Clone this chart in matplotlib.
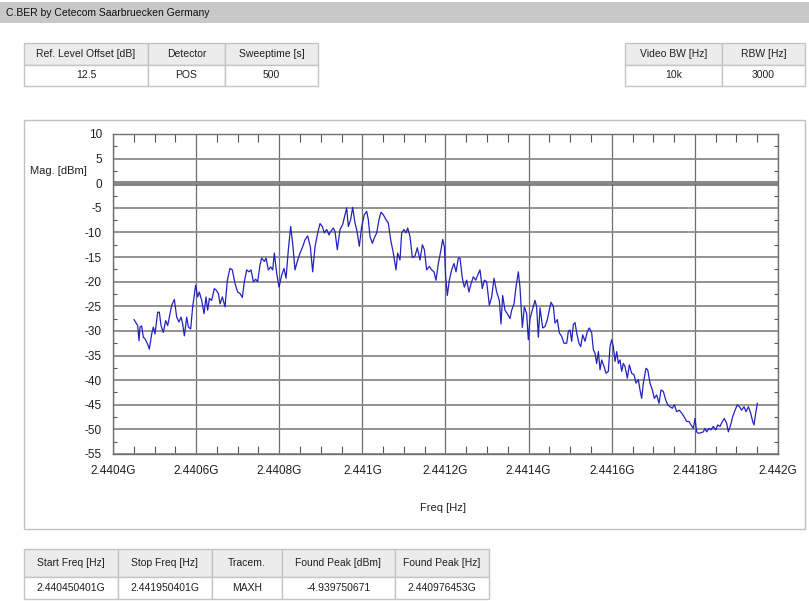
import matplotlib
matplotlib.use('Agg')
import matplotlib.pyplot as plt
from matplotlib.patches import Rectangle
from matplotlib.ticker import MultipleLocator

# --- Data ---

FREQ_MHZ = [
    2440.4504, 2440.4594, 2440.4626, 2440.4650, 2440.4690, 2440.4730, 2440.4770, 2440.4834,
    2440.4875, 2440.4931, 2440.4971, 2440.5011, 2440.5075, 2440.5115, 2440.5155, 2440.5211,
    2440.5267, 2440.5316, 2440.5372, 2440.5412, 2440.5476, 2440.5532, 2440.5588, 2440.5636,
    2440.5677, 2440.5717, 2440.5773, 2440.5813, 2440.5869, 2440.5917, 2440.5989, 2440.6037,
    2440.6077, 2440.6134, 2440.6190, 2440.6238, 2440.6278, 2440.6318, 2440.6374, 2440.6438,
    2440.6479, 2440.6535, 2440.6575, 2440.6631, 2440.6695, 2440.6751, 2440.6815, 2440.6871,
    2440.6936, 2440.7000, 2440.7056, 2440.7112, 2440.7160, 2440.7216, 2440.7272, 2440.7321,
    2440.7377, 2440.7433, 2440.7481, 2440.7537, 2440.7577, 2440.7641, 2440.7682, 2440.7738,
    2440.7794, 2440.7842, 2440.7882, 2440.7938, 2440.7994, 2440.8058, 2440.8115, 2440.8163,
    2440.8219, 2440.8275, 2440.8323, 2440.8379, 2440.8443, 2440.8500, 2440.8564, 2440.8620,
    2440.8684, 2440.8748, 2440.8804, 2440.8860, 2440.8925, 2440.8981, 2440.9037, 2440.9085,
    2440.9141, 2440.9197,
    2440.9221, 2440.9301, 2440.9341, 2440.9397, 2440.9462, 2440.9526, 2440.9582, 2440.9622,
    2440.9662, 2440.9718, 2440.9766, 2440.9823, 2440.9863, 2440.9927, 2440.9983, 2441.0047,
    2441.0103, 2441.0143, 2441.0183, 2441.0240, 2441.0288, 2441.0344, 2441.0400, 2441.0448,
    2441.0504, 2441.0568, 2441.0625, 2441.0681, 2441.0745, 2441.0809, 2441.0849, 2441.0905,
    2441.0945, 2441.1001, 2441.1050, 2441.1090, 2441.1146, 2441.1202, 2441.1266, 2441.1322,
    2441.1386, 2441.1443, 2441.1491, 2441.1547, 2441.1611, 2441.1667, 2441.1723, 2441.1771,
    2441.1828, 2441.1892, 2441.1932, 2441.1972, 2441.2004, 2441.2044, 2441.2092, 2441.2148,
    2441.2204, 2441.2253, 2441.2309, 2441.2349, 2441.2405, 2441.2453, 2441.2509, 2441.2565,
    2441.2614, 2441.2670, 2441.2726, 2441.2774, 2441.2830, 2441.2886, 2441.2934, 2441.2990,
    2441.3055, 2441.3111, 2441.3167, 2441.3231, 2441.3295, 2441.3335, 2441.3375, 2441.3432,
    2441.3488, 2441.3552, 2441.3592, 2441.3648, 2441.3696, 2441.3752, 2441.3792, 2441.3849,
    2441.3897, 2441.3953, 2441.3993, 2441.4033, 2441.4089, 2441.4153, 2441.4193, 2441.4234,
    2441.4274, 2441.4338, 2441.4394, 2441.4450, 2441.4499, 2441.4539, 2441.4595, 2441.4635,
    2441.4691, 2441.4739, 2441.4795, 2441.4851, 2441.4916, 2441.4956, 2441.4996, 2441.5036,
    2441.5076, 2441.5116, 2441.5156, 2441.5212, 2441.5252, 2441.5301, 2441.5357, 2441.5413,
    2441.5461, 2441.5517, 2441.5557, 2441.5597, 2441.5637, 2441.5678, 2441.5718, 2441.5758,
    2441.5814, 2441.5862, 2441.5918, 2441.5958, 2441.5998, 2441.6038, 2441.6079, 2441.6119,
    2441.6159, 2441.6199, 2441.6239, 2441.6279, 2441.6319, 2441.6375, 2441.6423, 2441.6480,
    2441.6536, 2441.6584, 2441.6640, 2441.6680, 2441.6720, 2441.6760, 2441.6824, 2441.6865,
    2441.6921, 2441.6977, 2441.7025, 2441.7081, 2441.7137, 2441.7185, 2441.7241, 2441.7298,
    2441.7346, 2441.7402, 2441.7458, 2441.7506, 2441.7562, 2441.7626, 2441.7683, 2441.7739,
    2441.7803, 2441.7859, 2441.7907, 2441.7963, 2441.8003, 2441.8043, 2441.8084, 2441.8140,
    2441.8204, 2441.8244, 2441.8284, 2441.8340, 2441.8388, 2441.8444, 2441.8501, 2441.8549,
    2441.8605, 2441.8661, 2441.8709, 2441.8765, 2441.8805, 2441.8861, 2441.8910, 2441.8966,
    2441.9022, 2441.9070, 2441.9126, 2441.9182, 2441.9230, 2441.9287, 2441.9343, 2441.9391,
    2441.9423, 2441.9463, 2441.9504,
]

MAG_DBM = [
    -27.7, -28.9, -32.0, -29.2, -29.0, -31.3, -31.6, -32.7,
    -33.7, -30.6, -29.2, -30.6, -26.2, -26.2, -28.9, -30.3,
    -27.9, -28.9, -26.5, -24.8, -23.6, -27.2, -28.2, -27.2,
    -28.6, -31.0, -27.2, -29.2, -29.6, -25.1, -20.7, -23.1,
    -22.1, -23.8, -26.5, -23.1, -25.8, -23.4, -23.8, -21.4,
    -21.7, -22.4, -24.5, -23.1, -25.1, -19.7, -17.3, -17.6,
    -20.4, -22.1, -22.4, -23.2, -20.0, -17.6, -18.0, -17.6,
    -20.0, -19.5, -20.0, -16.6, -15.2, -15.9, -15.2, -17.6,
    -17.0, -17.6, -14.2, -18.3, -21.1, -18.7, -17.3, -19.3,
    -13.5, -8.8, -12.2, -17.6, -15.6, -14.2, -12.9, -11.5,
    -10.7, -12.9, -18.0, -12.9, -10.1, -8.2, -8.8, -10.1,
    -9.4, -10.5,
    -10.0, -9.1, -9.8, -13.5, -9.4, -8.4, -6.4, -5.0,
    -8.8, -7.4, -4.9, -8.1, -9.4, -12.8, -8.8, -6.4,
    -5.7, -7.4, -10.8, -12.2, -11.1, -10.1, -7.4, -5.9,
    -6.4, -7.4, -8.1, -11.5, -14.2, -17.6, -14.2, -15.6,
    -10.1, -9.4, -10.1, -9.1, -10.8, -15.1, -14.8, -13.1,
    -15.6, -12.5, -13.5, -17.6, -16.9, -17.6, -18.0, -19.7,
    -16.3, -13.5, -11.4, -12.9, -19.0, -22.8, -19.7, -17.6,
    -16.3, -18.0, -15.2, -15.2, -19.3, -21.1, -19.7, -22.1,
    -20.4, -19.0, -19.7, -18.7, -17.6, -21.4, -19.7, -20.0,
    -24.8, -23.1, -19.3, -22.1, -23.8, -28.6, -22.8, -25.8,
    -26.5, -27.5, -25.8, -24.5, -21.1, -18.0, -21.1, -29.3,
    -25.1, -26.5, -31.8, -27.5, -25.8, -23.8, -25.1, -31.3,
    -25.3, -29.4, -29.1, -27.7, -25.7, -24.2, -25.0, -28.4,
    -27.7, -30.4, -31.1, -32.5, -32.5, -30.1, -29.8, -32.1,
    -28.7, -28.3, -30.4, -32.5, -33.2, -30.8, -32.1, -30.1,
    -29.4, -30.4, -33.8, -34.5, -36.6, -34.2, -37.9, -35.9,
    -37.2, -38.6, -38.2, -33.2, -31.8, -33.2, -36.2, -34.2,
    -36.6, -35.9, -38.2, -36.6, -37.2, -39.6, -36.9, -38.6,
    -38.9, -40.6, -39.9, -42.0, -43.7, -40.6, -37.6, -37.9,
    -40.6, -42.0, -43.7, -43.0, -44.7, -42.0, -42.3, -44.0,
    -45.0, -45.4, -45.7, -45.0, -46.4, -46.1, -46.7, -47.4,
    -48.4, -48.4, -49.1, -49.8, -47.8, -50.5, -50.8, -50.7,
    -50.5, -49.8, -50.5, -49.8, -50.1, -49.4, -50.1, -49.1,
    -49.4, -48.4, -47.8, -48.8, -50.5, -49.1, -47.4, -46.1,
    -45.0, -45.4, -46.1, -45.4, -46.4, -45.4, -46.7, -48.4,
    -49.1, -46.7, -44.7,
]

X_TICKS = [2440.4, 2440.6, 2440.8, 2441.0, 2441.2, 2441.4, 2441.6, 2441.8, 2442.0]
X_LABELS = ['2.4404G', '2.4406G', '2.4408G', '2.441G', '2.4412G',
            '2.4414G', '2.4416G', '2.4418G', '2.442G']
Y_TICKS = list(range(10, -60, -5))
Y_LABELS = [str(v) for v in Y_TICKS]

SETTINGS_HEAD = ['Ref. Level Offset [dB]', 'Detector', 'Sweeptime [s]']
SETTINGS_VALS = ['12.5', 'POS', '500']
BW_HEAD = ['Video BW [Hz]', 'RBW [Hz]']
BW_VALS = ['10k', '3000']
RESULT_HEAD = ['Start Freq [Hz]', 'Stop Freq [Hz]', 'Tracem.', 'Found Peak [dBm]', 'Found Peak [Hz]']
RESULT_VALS = ['2.440450401G', '2.441950401G', 'MAXH', '-4.939750671', '2.440976453G']

# --- Style ---

W, H = 809, 602
FONT = ['Liberation Sans Narrow', 'Liberation Sans', 'DejaVu Sans']
TXT = '#202020'
CELL_HEAD = '#ececec'
CELL_EDGE = '#c4c4c4'
GRID_H = '#8a8a8a'
GRID_V = '#6e6e6e'
TRACE = '#2222c0'

plt.rcParams['font.family'] = FONT


def table(ax, x_edges, y_edges, heads, vals, fs=7.5):
    y0, y1, y2 = y_edges
    for i, (h, v) in enumerate(zip(heads, vals)):
        xa, xb = x_edges[i], x_edges[i + 1]
        ax.add_patch(Rectangle((xa, y0), xb - xa, y1 - y0, facecolor=CELL_HEAD,
                               edgecolor=CELL_EDGE, lw=1.0))
        ax.add_patch(Rectangle((xa, y1), xb - xa, y2 - y1, facecolor='white',
                               edgecolor=CELL_EDGE, lw=1.0))
        ax.text((xa + xb) / 2, (y0 + y1) / 2, h, ha='center', va='center',
                fontsize=fs, color=TXT)
        ax.text((xa + xb) / 2, (y1 + y2) / 2, v, ha='center', va='center',
                fontsize=fs, color=TXT)


fig = plt.figure(figsize=(W / 100, H / 100), dpi=100, facecolor='white')

# pixel-space background layer
bg = fig.add_axes([0, 0, 1, 1])
bg.set_xlim(0, W)
bg.set_ylim(H, 0)
bg.axis('off')

# title bar
bg.add_patch(Rectangle((0, 2), W, 21, facecolor='#c8c8c8', edgecolor='none'))
bg.text(6, 13, 'C.BER by Cetecom Saarbruecken Germany', ha='left', va='center',
        fontsize=7.5, color='#101010')

# tables
table(bg, [24, 148, 225, 318], [43, 65, 86], SETTINGS_HEAD, SETTINGS_VALS)
table(bg, [625, 722, 805], [43, 65, 86], BW_HEAD, BW_VALS)
table(bg, [24, 118, 212, 282, 395, 489], [549, 577, 599], RESULT_HEAD, RESULT_VALS)

# chart panel
bg.add_patch(Rectangle((24, 120), 781, 409, facecolor='white', edgecolor='#c0c0c0', lw=1.0))
bg.text(58, 171, 'Mag. [dBm]', ha='center', va='center', fontsize=8, color=TXT)
bg.text(443, 508, 'Freq [Hz]', ha='center', va='center', fontsize=8, color=TXT)

# ============ SPECTRUM ============

ax = fig.add_axes([113 / W, 1 - 454 / H, 665 / W, 320 / H])
ax.set_facecolor('none')
ax.set_xlim(2440.4, 2442.0)
ax.set_ylim(-55, 10)

ax.set_xticks(X_TICKS)
ax.set_xticklabels(X_LABELS)
ax.set_yticks(Y_TICKS)
ax.set_yticklabels(Y_LABELS)
ax.xaxis.set_minor_locator(MultipleLocator(0.05))
ax.yaxis.set_minor_locator(MultipleLocator(2.5))

ax.grid(True, axis='y', which='major', color=GRID_H, lw=1.3)
ax.grid(True, axis='x', which='major', color=GRID_V, lw=0.9)
ax.axhline(0, color='#828282', lw=3.5, zorder=1.5)

ax.plot(FREQ_MHZ, MAG_DBM, color=TRACE, lw=0.9, zorder=3)

ax.tick_params(which='major', length=0, labelsize=8.5, labelcolor=TXT)
ax.tick_params(axis='y', which='major', pad=8)
ax.tick_params(axis='x', which='major', pad=8)
ax.tick_params(axis='x', which='minor', direction='in', length=6, width=0.8,
               color='#555555', top=True, bottom=True)
ax.tick_params(axis='y', which='minor', direction='in', length=3, width=0.8,
               color='#555555', left=True, right=True)
for spine in ax.spines.values():
    spine.set_color('#707070')
    spine.set_linewidth(1.0)

fig.savefig('out.png', dpi=100, facecolor='white')
